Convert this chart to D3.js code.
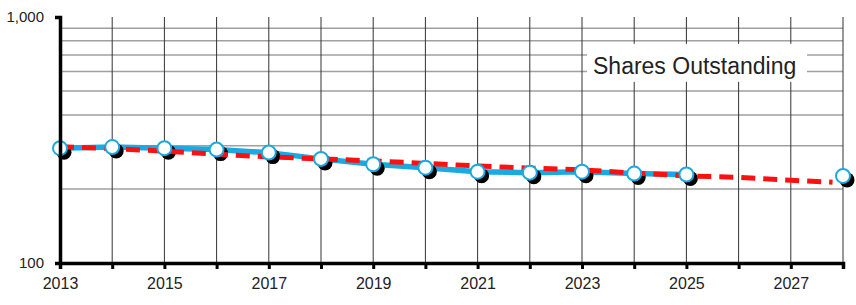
<!DOCTYPE html>
<html>
<head>
<meta charset="utf-8">
<script src="https://cdn.jsdelivr.net/npm/d3@7"></script>
<style>
  body { margin: 0; background: #fff; }
  text { font-family: "Liberation Sans", Arial, sans-serif; fill: #222; }
</style>
</head>
<body>
<svg id="chart" width="856" height="305"></svg>
<script>
// years on the x axis
const years = d3.range(2013, 2029);
// shares outstanding (white markers, blue line)
const shareYears = [2013, 2014, 2015, 2016, 2017, 2018, 2019, 2020, 2021, 2022, 2023, 2024, 2025, 2028];
const shares = [293, 296, 293, 289, 281, 265, 252, 244, 235, 233, 235, 231, 229, 226];
// red dashed trend
const trendYears = [2013, 2014, 2015, 2016, 2017, 2018, 2019, 2020, 2021, 2022, 2023, 2024, 2025, 2026, 2027, 2027.8];
const trend = [297, 292, 285, 277, 270, 265, 260, 254, 248, 243, 239, 232, 226, 223, 217, 213];
const yTicks = [100, 1000];
const gridVals = [200, 300, 400, 500, 600, 700, 800, 900];

const svg = d3.select("#chart");
const margin = { top: 17, right: 13, bottom: 42, left: 60 };
const width = 856 - margin.left - margin.right;
const height = 305 - margin.top - margin.bottom;

const x = d3.scaleLinear().domain([2013, 2028]).range([0, width]);
const y = d3.scaleLog().domain([100, 1000]).range([height, 0]);

const g = svg.append("g").attr("transform", `translate(${margin.left},${margin.top})`);

// horizontal grid
g.selectAll(".hgrid").data(gridVals).enter().append("line")
  .attr("x1", 0).attr("x2", width)
  .attr("y1", d => y(d)).attr("y2", d => y(d))
  .attr("stroke", "#a0a0a0").attr("stroke-width", 1.5);

// vertical grid
g.selectAll(".vgrid").data(years.slice(1)).enter().append("line")
  .attr("x1", d => x(d)).attr("x2", d => x(d))
  .attr("y1", 0).attr("y2", height)
  .attr("stroke", "#333").attr("stroke-width", 1);

// legend label box
const lg = g.append("g").attr("transform", `translate(${x(2023) + 5},${y(800) + 3})`);
lg.append("rect").attr("x", 0).attr("y", 0).attr("width", 220).attr("height", 38).attr("fill", "#fff");
lg.append("text").attr("x", 6).attr("y", 30).attr("font-size", 23).text("Shares Outstanding");

// blue line (actual period only)
const blueX = shareYears.filter(d => d <= 2025);
const line = d3.line().x(d => x(d[0])).y(d => y(d[1]));
g.append("path")
  .datum(blueX.map((d, i) => [d, shares[i]]))
  .attr("d", line)
  .attr("fill", "none").attr("stroke", "#1aa9e1").attr("stroke-width", 5.5);

const pts = shareYears.map((d, i) => [d, shares[i]]);

// black shadow markers
g.selectAll(".shadow").data(pts).enter().append("circle")
  .attr("cx", d => x(d[0]) + 4).attr("cy", d => y(d[1]) + 4)
  .attr("r", 7.5).attr("fill", "#000");

// red dashed trend
g.append("path")
  .datum(trendYears.map((d, i) => [d, trend[i]]))
  .attr("d", line)
  .attr("fill", "none").attr("stroke", "#ff1010").attr("stroke-width", 5)
  .attr("stroke-dasharray", "14,8");

// white markers
g.selectAll(".pt").data(pts).enter().append("circle")
  .attr("cx", d => x(d[0])).attr("cy", d => y(d[1]))
  .attr("r", 7).attr("fill", "#fff").attr("stroke", "#1aa9e1").attr("stroke-width", 2);

// x axis
const xAxis = g.append("g").attr("transform", `translate(0,${height})`)
  .call(d3.axisBottom(x).tickValues(years).tickSize(6).tickFormat(d => d % 2 === 1 ? d : ""));
xAxis.select(".domain").attr("stroke", "#000").attr("stroke-width", 3.5);
xAxis.selectAll(".tick line").attr("stroke", "#000").attr("stroke-width", 3);
xAxis.selectAll(".tick text").attr("font-size", 16).attr("dy", "1.05em").attr("fill", "#222")
  .style("font-family", "'Liberation Sans', Arial, sans-serif");

// y axis
const yAxis = g.append("g")
  .call(d3.axisLeft(y).tickValues(yTicks).tickSize(5).tickFormat(d3.format(",")));
yAxis.select(".domain").attr("stroke", "#000").attr("stroke-width", 3.5);
yAxis.selectAll(".tick line").attr("stroke", "#000").attr("stroke-width", 3);
yAxis.selectAll(".tick text").attr("font-size", 15).attr("x", -16).attr("fill", "#222")
  .style("font-family", "'Liberation Sans', Arial, sans-serif");
</script>
</body>
</html>
